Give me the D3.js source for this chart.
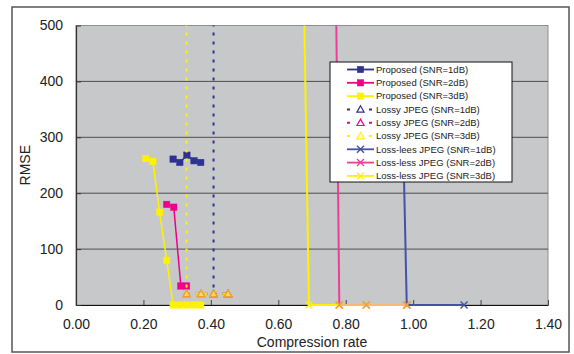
<!DOCTYPE html>
<html><head><meta charset="utf-8">
<script src="https://cdn.jsdelivr.net/npm/d3@7"></script>
<style>
html,body{margin:0;padding:0;background:#fff;}
text{font-family:"Liberation Sans",Arial,sans-serif;}
</style></head>
<body><svg id="chart" width="574" height="354"></svg>
<script>
// ---- data ----
const seriesNames = ["Proposed (SNR=1dB)","Proposed (SNR=2dB)","Proposed (SNR=3dB)",
  "Lossy JPEG (SNR=1dB)","Lossy JPEG (SNR=2dB)","Lossy JPEG (SNR=3dB)",
  "Loss-lees JPEG (SNR=1dB)","Loss-less JPEG (SNR=2dB)","Loss-less JPEG (SNR=3dB)"];
const prop1X = [0.288,0.308,0.329,0.350,0.370];
const prop1Y = [261,255,268,258,255];
const prop2X = [0.269,0.290,0.311,0.328];
const prop2Y = [180,175,34,34];
const prop3X = [0.207,0.228,0.248,0.269,0.288,0.308,0.329,0.350,0.370];
const prop3Y = [262,257,166,80,0,0,0,0,0];
const lossy1X = [0.408,0.408,0.451];
const lossy1Y = [600,20,20];
const lossy2X = [0.328,0.371,0.408,0.451];
const lossy2Y = [20,20,20,20];
const lossy3X = [0.328,0.328,0.371,0.408,0.451];
const lossy3Y = [600,20,20,20,20];
const ll1X = [0.966,0.981,1.151];
const ll1Y = [420,0,0];
const ll2X = [0.772,0.781,0.861,0.981];
const ll2Y = [510,0,0,0];
const ll3X = [0.677,0.691,0.781,0.861,0.981];
const ll3Y = [510,0,0,0,0];
const xTicks = [0,0.2,0.4,0.6,0.8,1.0,1.2,1.4];
const yTicks = [0,100,200,300,400,500];

const colors = ["#2E3192","#EC008C","#FFF200","#2E3192","#EC008C","#FFF200","#4550A8","#EC3D9A","#FFF200"];
const kinds = ["square","square","square","tri","tri","tri","x","x","x"];
const xs = [prop1X,prop2X,prop3X,lossy1X,lossy2X,lossy3X,ll1X,ll2X,ll3X];
const ys = [prop1Y,prop2Y,prop3Y,lossy1Y,lossy2Y,lossy3Y,ll1Y,ll2Y,ll3Y];
const series = seriesNames.map((n,i)=>({name:n,color:colors[i],kind:kinds[i],
  pts:xs[i].map((x,j)=>({x:x,y:ys[i][j]}))}));

// ---- layout ----
const svg = d3.select("#chart");
const L=76,R=548,T=25.5,B=305;
const x = d3.scaleLinear().domain([0,1.4]).range([L,R]);
const y = d3.scaleLinear().domain([0,500]).range([B,T]);

// outer frame
svg.append("rect").attr("x",12).attr("y",7).attr("width",557).attr("height",345)
  .attr("fill","#fff").attr("stroke","#555").attr("stroke-width",1.5);
// plot bg
svg.append("rect").attr("x",L).attr("y",T).attr("width",R-L).attr("height",B-T)
  .attr("fill","#C7C8CA").attr("stroke","#8E8E8E").attr("stroke-width",1);
// gridlines
svg.append("g").selectAll("line").data(yTicks.filter(d=>d>0&&d<500)).join("line")
  .attr("x1",L).attr("x2",R).attr("y1",d=>y(d)).attr("y2",d=>y(d))
  .attr("stroke","#4D4D4D").attr("stroke-width",1);

// axes
const xAxis = d3.axisBottom(x).tickValues(xTicks).tickFormat(d3.format(".2f")).tickSizeInner(-5).tickSizeOuter(0).tickPadding(14);
const gx = svg.append("g").attr("transform",`translate(0,${B})`).call(xAxis);
gx.select(".domain").attr("stroke","#111").attr("stroke-width",1.2);
gx.selectAll(".tick line").attr("stroke","#444");
gx.selectAll(".tick text").attr("font-size",14).attr("fill","#222")
  .attr("font-family","'Liberation Sans',Arial,sans-serif");
const yAxis = d3.axisLeft(y).tickValues(yTicks).tickFormat(d3.format("d")).tickSizeInner(-5).tickSizeOuter(0).tickPadding(13);
const gy = svg.append("g").attr("transform",`translate(${L},0)`).call(yAxis);
gy.select(".domain").attr("stroke","#333").attr("stroke-width",1.2);
gy.selectAll(".tick line").attr("stroke","#333");
gy.selectAll(".tick text").attr("font-size",14).attr("fill","#222")
  .attr("font-family","'Liberation Sans',Arial,sans-serif");

svg.append("text").attr("x",(L+R)/2).attr("y",346.5).attr("text-anchor","middle")
  .attr("font-size",14).attr("fill","#222").text("Compression rate");
svg.append("text").attr("transform",`translate(30,${(T+B)/2}) rotate(-90)`).attr("text-anchor","middle")
  .attr("font-size",14).attr("fill","#222").text("RMSE");

// clip
svg.append("defs").append("clipPath").attr("id","clip").append("rect")
  .attr("x",L-20).attr("y",T).attr("width",R-L+40).attr("height",B-T+30);
const plot = svg.append("g").attr("clip-path","url(#clip)");
const line = d3.line().x(d=>x(d.x)).y(d=>y(d.y));

function drawMarker(g,kind,cx,cy,color,fill){
  if(kind==="square"){
    g.append("rect").attr("x",cx-3.2).attr("y",cy-3.2).attr("width",6.4).attr("height",6.4)
      .attr("fill",color).attr("stroke",color).attr("stroke-width",0.5);
  } else if(kind==="tri"){
    g.append("path").attr("d",`M${cx},${cy-3.6}L${cx+3.6},${cy+2.8}L${cx-3.6},${cy+2.8}Z`)
      .attr("fill",fill).attr("stroke",color).attr("stroke-width",1.2);
  } else {
    g.append("path").attr("d",`M${cx-3.5},${cy-3.5}L${cx+3.5},${cy+3.5}M${cx-3.5},${cy+3.5}L${cx+3.5},${cy-3.5}`)
      .attr("stroke",color).attr("stroke-width",1.4).attr("fill","none");
  }
}
function styleLine(p,s){
  if(s.kind==="tri") p.attr("stroke-width",2).attr("stroke-dasharray","3,6");
  else if(s.kind==="x") p.attr("stroke-width",2);
  else p.attr("stroke-width",1.5);
}
series.forEach(s=>{
  const p = plot.append("path").datum(s.pts).attr("d",line).attr("fill","none").attr("stroke",s.color);
  styleLine(p,s);
  s.pts.forEach(d=>drawMarker(plot,s.kind,x(d.x),y(d.y),s.color,s.color));
});

// overlap of magenta & yellow series renders orange (as in the reference)
const orangeLine="#F9BA70", orangeMk="#F0A030", orangeFill="#F9DC60";
[[4,5],[7,8]].forEach(([a,b])=>{
  const sa=series[a], sb=series[b];
  const key=d=>d.x+"_"+d.y;
  const setA=new Set(sa.pts.map(key));
  if(sb.kind==="x"){
    for(let i=1;i<sb.pts.length;i++){
      const p0=sb.pts[i-1],p1=sb.pts[i];
      if(setA.has(key(p0))&&setA.has(key(p1)))
        plot.append("path").datum([p0,p1]).attr("d",line).attr("stroke",orangeLine).attr("stroke-width",2).attr("fill","none");
    }
  }
  sb.pts.filter(d=>setA.has(key(d))).forEach(d=>drawMarker(plot,sb.kind,x(d.x),y(d.y),orangeMk,orangeFill));
});

// legend
const lg = svg.append("g");
lg.append("rect").attr("x",330).attr("y",62).attr("width",182).attr("height",120)
  .attr("fill","#fff").attr("stroke","#111").attr("stroke-width",1);
series.forEach((s,i)=>{
  const yy = 69.5 + i*13.3;
  const ln = lg.append("line").attr("x1",347).attr("x2",374).attr("y1",yy).attr("y2",yy).attr("stroke",s.color);
  if(s.kind==="tri") ln.attr("stroke-width",2).attr("stroke-dasharray","3,8");
  else ln.attr("stroke-width",1.8);
  drawMarker(lg,s.kind,360.5,yy,s.color,"#fff");
  lg.append("text").attr("x",376).attr("y",yy).attr("dy","0.35em").attr("font-size",9.5).attr("fill","#222").text(s.name);
});
</script></body></html>
